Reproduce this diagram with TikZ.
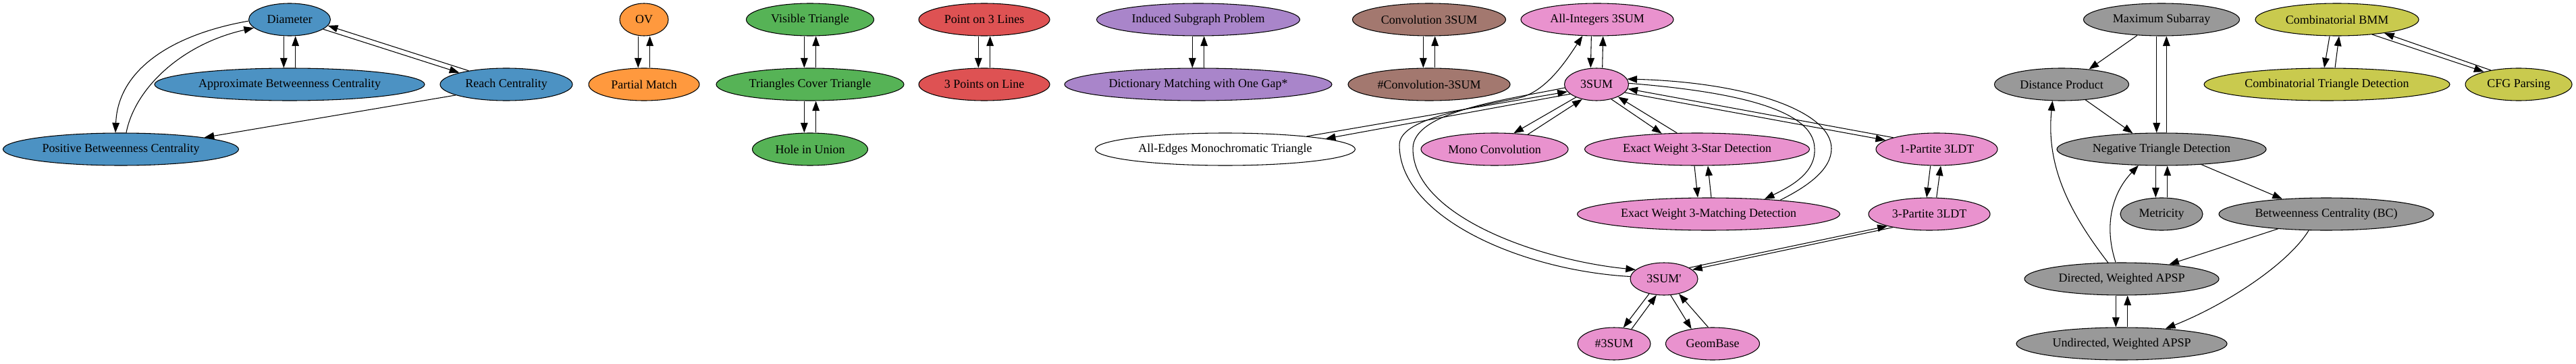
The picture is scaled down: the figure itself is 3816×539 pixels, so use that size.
\documentclass[tikz,border=0pt]{standalone}
\usepackage{fontspec}
\setmainfont{Liberation Serif}[Ligatures=TeXOff]
\usetikzlibrary{arrows.meta,shapes.geometric}
\definecolor{cblue}{HTML}{4C92C3}
\definecolor{corange}{HTML}{FF993E}
\definecolor{cgreen}{HTML}{56B356}
\definecolor{cred}{HTML}{DE5253}
\definecolor{cpurple}{HTML}{A985CA}
\definecolor{cbrown}{HTML}{A3786F}
\definecolor{cpink}{HTML}{E992CE}
\definecolor{cgray}{HTML}{999999}
\definecolor{colive}{HTML}{C9CA4E}
\begin{document}
\begin{tikzpicture}[x=0.75pt,y=0.75pt,
  nd/.style={ellipse, draw=black, line width=0.8pt, inner sep=0pt, minimum height=36pt,
    font=\fontsize{13.5pt}{16pt}\selectfont},
  conn/.style={draw=black, line width=0.8pt, -{Triangle[length=11pt,width=8pt]}}]
\useasboundingbox (0,0) rectangle (3816,-539);
% row 1
\node[nd, fill=cblue,   minimum width=90.75pt]  (diam)   at (429,-29)  {Diameter};
\node[nd, fill=corange, minimum width=54pt]     (ov)     at (954,-29)  {OV};
\node[nd, fill=cgreen,  minimum width=141.75pt] (vis)    at (1200,-29) {Visible Triangle};
\node[nd, fill=cred,    minimum width=145.5pt]  (p3l)    at (1458,-29) {Point on 3 Lines};
\node[nd, fill=cpurple, minimum width=225.75pt] (isp)    at (1775,-29) {Induced Subgraph Problem};
\node[nd, fill=cbrown,  minimum width=170.25pt] (c3s)    at (2117,-29) {Convolution 3SUM};
\node[nd, fill=cpink,   minimum width=169.5pt]  (ai3)    at (2366,-29) {All-Integers 3SUM};
\node[nd, fill=cgray,   minimum width=173.25pt] (maxsub) at (3202,-29) {Maximum Subarray};
\node[nd, fill=colive,  minimum width=181.5pt]  (cbmm)   at (3462,-29) {Combinatorial BMM};
% row 2
\node[nd, fill=cblue,   minimum width=300pt]    (abc)    at (429,-125)  {Approximate Betweenness Centrality};
\node[nd, fill=cblue,   minimum width=147pt]    (reach)  at (750,-125)  {Reach Centrality};
\node[nd, fill=corange, minimum width=123pt]    (pm)     at (954,-125)  {Partial Match};
\node[nd, fill=cgreen,  minimum width=208.5pt]  (tct)    at (1200,-125) {Triangles Cover Triangle};
\node[nd, fill=cred,    minimum width=145.5pt]  (p3)     at (1458,-125) {3 Points on Line};
\node[nd, fill=cpurple, minimum width=297pt]    (dmg)    at (1775,-125) {Dictionary Matching with One Gap*};
\node[nd, fill=cbrown,  minimum width=180pt]    (nc3s)   at (2117,-125) {\#Convolution-3SUM};
\node[nd, fill=cpink,   minimum width=71.25pt]  (s3)     at (2365,-125) {3SUM};
\node[nd, fill=cgray,   minimum width=149.25pt] (dp)     at (3054,-125) {Distance Product};
\node[nd, fill=colive,  minimum width=273pt]    (ctd)    at (3447,-125) {Combinatorial Triangle Detection};
\node[nd, fill=colive,  minimum width=118.5pt]  (cfg)    at (3731,-125) {CFG Parsing};
% row 3
\node[nd, fill=cblue,   minimum width=261.75pt] (pbc)    at (179,-221)  {Positive Betweenness Centrality};
\node[nd, fill=cgreen,  minimum width=128.25pt] (hole)   at (1200,-221) {Hole in Union};
\node[nd, fill=white,   minimum width=288.75pt] (aemt)   at (1815,-221) {All-Edges Monochromatic Triangle};
\node[nd, fill=cpink,   minimum width=163.5pt]  (mono)   at (2214,-221) {Mono Convolution};
\node[nd, fill=cpink,   minimum width=249.75pt] (ews)    at (2514,-221) {Exact Weight 3-Star Detection};
\node[nd, fill=cpink,   minimum width=135pt]    (lp)     at (2869,-221) {1-Partite 3LDT};
\node[nd, fill=cgray,   minimum width=232.5pt]  (ntd)    at (3202,-221) {Negative Triangle Detection};
% row 4
\node[nd, fill=cpink,   minimum width=291.75pt] (ewm)    at (2531,-317) {Exact Weight 3-Matching Detection};
\node[nd, fill=cpink,   minimum width=135pt]    (tp)     at (2858,-317) {3-Partite 3LDT};
\node[nd, fill=cgray,   minimum width=91.5pt]   (met)    at (3202,-317) {Metricity};
\node[nd, fill=cgray,   minimum width=238.5pt]  (bc)     at (3446,-317) {Betweenness Centrality (BC)};
% row 5
\node[nd, fill=cpink,   minimum width=75pt]     (s3p)    at (2465,-413) {3SUM'};
\node[nd, fill=cgray,   minimum width=216pt]    (dir)    at (3143,-413) {Directed, Weighted APSP};
% row 6
\node[nd, fill=cpink,   minimum width=81pt]     (h3)     at (2391,-509) {\#3SUM};
\node[nd, fill=cpink,   minimum width=104.25pt] (geom)   at (2537,-509) {GeomBase};
\node[nd, fill=cgray,   minimum width=234pt]    (undir)  at (3143,-509) {Undirected, Weighted APSP};

% blue
\draw[conn] ([xshift=-6.5pt]diam.south) -- ([xshift=-6.5pt]abc.north);
\draw[conn] ([xshift=6.5pt]abc.north) -- ([xshift=6.5pt]diam.south);
\draw[conn] (diam.-16) -- (reach.166);
\draw[conn] (reach.160) -- (diam.-9);
\draw[conn] (reach.192) -- (pbc.8);
\draw[conn] (diam.182) .. controls (260,-50) and (175,-100) .. ([xshift=-6pt]pbc.north);
\draw[conn] ([xshift=6pt]pbc.north) .. controls (200,-130) and (270,-65) .. (diam.193);
% orange, green, red, purple, brown
\draw[conn] ([xshift=-6.5pt]ov.south) -- ([xshift=-6.5pt]pm.north);
\draw[conn] ([xshift=6.5pt]pm.north) -- ([xshift=6.5pt]ov.south);
\draw[conn] ([xshift=-6.5pt]vis.south) -- ([xshift=-6.5pt]tct.north);
\draw[conn] ([xshift=6.5pt]tct.north) -- ([xshift=6.5pt]vis.south);
\draw[conn] ([xshift=-6.5pt]tct.south) -- ([xshift=-6.5pt]hole.north);
\draw[conn] ([xshift=6.5pt]hole.north) -- ([xshift=6.5pt]tct.south);
\draw[conn] ([xshift=-6.5pt]p3l.south) -- ([xshift=-6.5pt]p3.north);
\draw[conn] ([xshift=6.5pt]p3.north) -- ([xshift=6.5pt]p3l.south);
\draw[conn] ([xshift=-6.5pt]isp.south) -- ([xshift=-6.5pt]dmg.north);
\draw[conn] ([xshift=6.5pt]dmg.north) -- ([xshift=6.5pt]isp.south);
\draw[conn] ([xshift=-6.5pt]c3s.south) -- ([xshift=-6.5pt]nc3s.north);
\draw[conn] ([xshift=6.5pt]nc3s.north) -- ([xshift=6.5pt]c3s.south);
% pink
\draw[conn] ([xshift=-6.5pt]ai3.south) -- ([xshift=-6.5pt]s3.north);
\draw[conn] ([xshift=6.5pt]s3.north) -- ([xshift=6.5pt]ai3.south);
\draw[conn] (s3.200) -- (aemt.6);
\draw[conn] (aemt.9) -- (s3.194);
\draw[conn] (s3.212) -- (mono.40);
\draw[conn] (mono.24) -- (s3.226);
\draw[conn] (s3.-45) -- (ews.156);
\draw[conn] (ews.141) -- (s3.-30);
\draw[conn] ([xshift=-3pt]ews.south) -- ([xshift=-12pt]ewm.north);
\draw[conn] ([xshift=3pt]ewm.north) -- ([xshift=12pt]ews.south);
\draw[conn] (s3.2) .. controls (2560,-135) and (2688,-160) .. (2688,-220)
                  .. controls (2690,-255) and (2655,-275) .. (ewm.15);
\draw[conn] (ewm.11) .. controls (2680,-275) and (2713,-250) .. (2713,-220)
                  .. controls (2713,-165) and (2590,-122) .. (s3.10);
\draw[conn] (s3.-16) -- (lp.170);
\draw[conn] (lp.165) -- (s3.-8);
\draw[conn] ([xshift=-7pt]lp.south) -- ([xshift=-3pt]tp.north);
\draw[conn] ([xshift=8pt]tp.north) -- ([xshift=4.5pt]lp.south);
\draw[conn] (tp.200) -- (s3p.18);
\draw[conn] (s3p.24) -- (tp.196);
\draw[conn] (s3p.225) -- (h3.60);
\draw[conn] (h3.40) -- (s3p.245);
\draw[conn] (s3p.-68) -- (geom.145);
\draw[conn] (geom.105) -- (s3p.-45);
\draw[conn] (s3p.176) .. controls (2250,-400) and (2073,-320) .. (2073,-215)
                    .. controls (2073,-180) and (2150,-165) .. (2250,-145)
                    .. controls (2290,-136) and (2320,-90) .. (ai3.228);
\draw[conn] (s3.186) .. controls (2230,-148) and (2093,-165) .. (2093,-220)
                  .. controls (2093,-320) and (2280,-385) .. (s3p.162);
% gray
\draw[conn] (maxsub.213) -- (dp.29);
\draw[conn] ([xshift=-5.5pt]maxsub.south) -- ([xshift=-5.5pt]ntd.north);
\draw[conn] ([xshift=5.5pt]ntd.north) -- ([xshift=5.5pt]maxsub.south);
\draw[conn] (dp.-33) -- (ntd.151);
\draw[conn] ([xshift=-6.5pt]ntd.south) -- ([xshift=-6.5pt]met.north);
\draw[conn] ([xshift=6.5pt]met.north) -- ([xshift=6.5pt]ntd.south);
\draw[conn] (ntd.-21) -- (bc.161);
\draw[conn] (dir.110) .. controls (3118,-340) and (3125,-290) .. (ntd.215);
\draw[conn] (dir.130) .. controls (3070,-320) and (3030,-250) .. (dp.241);
\draw[conn] (bc.197) -- (dir.17);
\draw[conn] (bc.223) .. controls (3390,-390) and (3300,-450) .. (undir.19);
\draw[conn] ([xshift=-6.5pt]dir.south) -- ([xshift=-6.5pt]undir.north);
\draw[conn] ([xshift=6.5pt]undir.north) -- ([xshift=6.5pt]dir.south);
% olive
\draw[conn] ([xshift=-8.25pt]cbmm.south) -- ([xshift=-3pt]ctd.north);
\draw[conn] ([xshift=9pt]ctd.north) -- ([xshift=2.25pt]cbmm.south);
\draw[conn] (cbmm.-23) -- (cfg.160);
\draw[conn] (cfg.153) -- (cbmm.-16);
\end{tikzpicture}
\end{document}
